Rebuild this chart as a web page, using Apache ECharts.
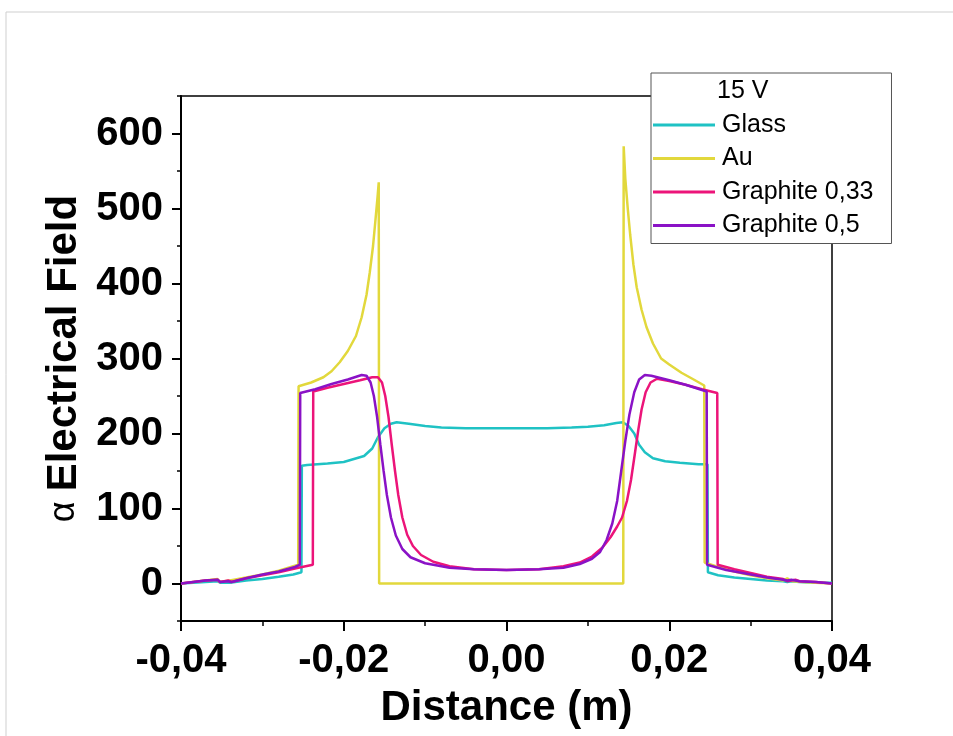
<!DOCTYPE html>
<html>
<head>
<meta charset="utf-8">
<script src="https://cdn.jsdelivr.net/npm/echarts@6/dist/echarts.min.js"></script>
<style>html,body{margin:0;padding:0;background:#fff}#c{width:953px;height:736px}</style>
</head>
<body>
<div id="c"></div>
<script>
// ---- data ----
const glassX = [-0.040,-0.037,-0.0355,-0.0352,-0.0345,-0.034,-0.032,-0.030,-0.028,-0.0262,-0.0252,-0.02515,-0.0245,-0.022,-0.020,-0.0175,-0.0165,-0.0158,-0.0150,-0.0142,-0.0135,-0.012,-0.010,-0.008,-0.005,0,0.005,0.008,0.010,0.012,0.0135,0.0143,0.0150,0.0157,0.0163,0.0170,0.0180,0.0195,0.0213,0.0236,0.0247,0.02475,0.026,0.028,0.030,0.032,0.034,0.0345,0.035,0.036,0.038,0.040];
const glassY = [0,2,3,1,1,1,4,6,9,12,15,157,158,160,162,170,180,195,207,213,215,213,210,208,207,207,207,208,209,211,214,215,210,200,185,175,167,163,161,159,159,15,11,8,6,4,3,2,3,2,1,1];

const auX = [-0.040,-0.037,-0.0355,-0.0353,-0.034,-0.032,-0.030,-0.028,-0.0256,-0.02555,-0.0240,-0.0225,-0.0215,-0.0205,-0.0195,-0.0185,-0.0178,-0.0172,-0.0168,-0.0164,-0.0161,-0.01585,-0.0157,-0.01565,0.01435,0.0144,0.0146,0.0149,0.0152,0.0156,0.0160,0.0166,0.0172,0.018,0.019,0.020,0.0215,0.023,0.0243,0.02435,0.026,0.028,0.030,0.032,0.034,0.0345,0.0348,0.0352,0.0365,0.038,0.040];
const auY = [0,4,6,2,4,8,12,17,25,263,268,275,283,295,310,330,355,385,415,450,485,515,535,0,0,583,540,500,465,425,395,365,342,320,300,292,281,272,264,28,22,16,11,7,4,7,4,3,2,1,0];

const g033X = [-0.040,-0.037,-0.0355,-0.0352,-0.0342,-0.0338,-0.032,-0.030,-0.028,-0.026,-0.0238,-0.02375,-0.022,-0.020,-0.018,-0.0165,-0.0158,-0.0153,-0.0149,-0.0145,-0.0141,-0.0137,-0.0133,-0.0128,-0.0122,-0.0115,-0.0105,-0.009,-0.007,-0.004,0,0.004,0.007,0.009,0.0105,0.0118,0.0128,0.0136,0.0142,0.0148,0.0153,0.0158,0.0162,0.0166,0.0171,0.0177,0.0185,0.020,0.022,0.024,0.0259,0.02595,0.028,0.030,0.032,0.034,0.0345,0.0355,0.036,0.038,0.040];
const g033Y = [0,4,5,2,4,2,7,11,15,20,25,256,261,266,271,275,275,268,250,222,185,150,118,88,65,50,38,29,23,19,18,19,23,28,36,48,62,76,88,110,138,175,205,232,255,268,273,270,265,259,254,25,19,14,9,6,3,5,3,2,0];

const g05X = [-0.040,-0.037,-0.0355,-0.0352,-0.0342,-0.0338,-0.032,-0.030,-0.028,-0.026,-0.0254,-0.02535,-0.0235,-0.0215,-0.0195,-0.0178,-0.0172,-0.0167,-0.0163,-0.0159,-0.0155,-0.0151,-0.0147,-0.0142,-0.0136,-0.0128,-0.0118,-0.010,-0.007,-0.004,0,0.004,0.007,0.009,0.0105,0.0115,0.0123,0.0130,0.0136,0.0141,0.0146,0.0151,0.0157,0.0163,0.0170,0.0178,0.020,0.022,0.0246,0.02465,0.027,0.030,0.032,0.034,0.0345,0.035,0.036,0.038,0.040];
const g05Y = [0,4,5,2,3,2,7,12,16,22,25,254,259,266,272,278,277,268,250,222,185,150,118,88,64,46,35,27,21,19,18,19,21,26,33,42,58,80,110,150,190,225,255,272,278,277,271,265,256,25,18,12,8,5,4,5,3,2,0];

const seriesNames = ['Glass', 'Au', 'Graphite 0,33', 'Graphite 0,5'];
const seriesColors = ['#1fc2c4', '#e2d83c', '#ec1479', '#8a12c6'];
const yMajorTicks = [0, 100, 200, 300, 400, 500, 600];
const yMinorTicks = [-50, 50, 150, 250, 350, 450, 550, 650];
const legendTitle = '15 V';

// ---- chart ----
const pairs = (xs, ys) => xs.map((x, i) => [x, ys[i]]);
const seriesData = [pairs(glassX, glassY), pairs(auX, auY), pairs(g033X, g033Y), pairs(g05X, g05Y)];
const FONT = '"Liberation Sans", Arial, sans-serif';

const chart = echarts.init(document.getElementById('c'), null, { renderer: 'canvas' });
chart.setOption({
  animation: false,
  backgroundColor: '#fff',
  textStyle: { fontFamily: FONT },
  grid: { left: 181, top: 96, right: 121, bottom: 115, show: true, borderColor: '#000', borderWidth: 1.5, backgroundColor: 'transparent' },
  xAxis: {
    type: 'value', min: -0.04, max: 0.04, interval: 0.02,
    axisLine: { show: true, onZero: false, lineStyle: { color: '#000', width: 2 } },
    axisTick: { show: true, length: 10, lineStyle: { color: '#000', width: 2 } },
    minorTick: { show: true, splitNumber: 2, length: 5, lineStyle: { color: '#000', width: 1.5 } },
    splitLine: { show: false }, minorSplitLine: { show: false },
    axisLabel: {
      fontSize: 40, fontWeight: 'bold', color: '#000', margin: 20, fontFamily: FONT,
      showMinLabel: true, showMaxLabel: true,
      formatter: v => (Math.abs(v) < 1e-9 ? 0 : v).toFixed(2).replace('.', ',')
    },
    name: 'Distance (m)', nameLocation: 'middle', nameGap: 66,
    nameTextStyle: { fontSize: 42, fontWeight: 'bold', color: '#000', fontFamily: FONT }
  },
  yAxis: [{
    type: 'value', min: -50, max: 650, interval: 50, position: 'left',
    axisLine: { show: true, onZero: false, lineStyle: { color: '#000', width: 2 } },
    axisTick: { show: true, length: 9, customValues: yMajorTicks, lineStyle: { color: '#000', width: 2 } },
    splitLine: { show: false },
    axisLabel: { customValues: yMajorTicks, fontSize: 40, fontWeight: 'bold', color: '#000', margin: 18, fontFamily: FONT },
    name: '{a|α }{b|Electrical Field}', nameLocation: 'middle', nameGap: 89,
    nameTextStyle: {
      color: '#000',
      rich: {
        a: { fontSize: 36, fontWeight: 'normal', fontFamily: FONT, color: '#000', lineHeight: 44 },
        b: { fontSize: 42, fontWeight: 'bold', fontFamily: FONT, color: '#000', lineHeight: 44 }
      }
    }
  }, {
    type: 'value', min: -50, max: 650, interval: 50, position: 'left',
    axisLine: { show: false, onZero: false },
    axisTick: { show: true, length: 4, customValues: yMinorTicks, lineStyle: { color: '#000', width: 1.5 } },
    axisLabel: { show: false }, splitLine: { show: false }
  }],
  legend: {
    orient: 'vertical', left: 651, top: 73,
    data: seriesNames.map(n => ({ name: n, icon: 'rect' })),
    itemWidth: 62, itemHeight: 3, itemGap: 7.5,
    padding: [39, 18, 5, 2],
    borderColor: '#555', borderWidth: 1, backgroundColor: '#fff',
    selectedMode: false,
    textStyle: { fontSize: 25, color: '#000', fontFamily: FONT, lineHeight: 26, padding: [0, 0, 0, 2] }
  },
  graphic: [
    { type: 'rect', z: -10, silent: true, shape: { x: 6, y: 12, width: 1000, height: 800 }, style: { fill: 'none', stroke: '#cfcfcf', lineWidth: 1 } },
    { type: 'text', z: 100, left: 717, top: 79, style: { text: legendTitle, fontSize: 25, fontFamily: FONT, fill: '#000' } }
  ],
  series: seriesNames.map((n, i) => ({
    name: n, type: 'line', data: seriesData[i], yAxisIndex: 0,
    showSymbol: false, symbol: 'none', smooth: false,
    lineStyle: { color: seriesColors[i], width: 2.5 },
    itemStyle: { color: seriesColors[i] },
    z: 2 + i
  }))
});
</script>
</body>
</html>
